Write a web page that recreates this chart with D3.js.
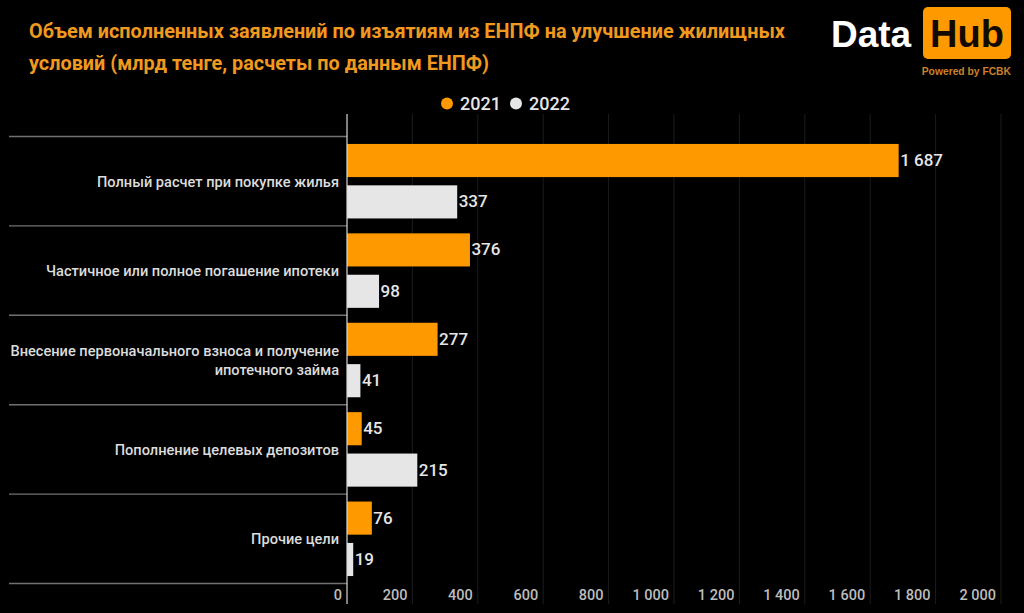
<!DOCTYPE html>
<html><head><meta charset="utf-8">
<script src="https://cdnjs.cloudflare.com/ajax/libs/d3/7.8.5/d3.min.js"></script>
<style>html,body{margin:0;padding:0;background:#000;overflow:hidden}svg{display:block}text{font-family:Roboto,sans-serif}</style>
</head><body><svg id="c" width="1024" height="613"></svg>
<script>
const categories = ["Полный расчет при покупке жилья","Частичное или полное погашение ипотеки","Внесение первоначального взноса и получение|ипотечного займа","Пополнение целевых депозитов","Прочие цели"];
const seriesNames = ["2021","2022"];
const values2021 = [1687,376,277,45,76];
const values2022 = [337,98,41,215,19];
const xTicks = [0,200,400,600,800,1000,1200,1400,1600,1800,2000];
const titleLines = ["Объем исполненных заявлений по изъятиям из ЕНПФ на улучшение жилищных","условий (млрд тенге, расчеты по данным ЕНПФ)"];
const colors = ["#ff9900","#e6e6e6"];
const fmt = v => d3.format(",")(v).replace(/,/g," ");

const svg = d3.select("#c");
const x = d3.scaleLinear().domain([0,2000]).range([347,1001]);
const y = d3.scaleBand().domain(categories).range([136.5,583.5]);
const y2 = d3.scaleBand().domain([0,1]).range([0,y.bandwidth()]).paddingInner(0.2).paddingOuter(0.18);

// title
svg.append("g").selectAll("text").data(titleLines).join("text")
  .attr("x",29).attr("y",(d,i)=>38+i*32).attr("fill","#f0991f")
  .style("font-size","19.85px").style("font-weight",700).text(d=>d);

// logo
const logoFont = "Liberation Sans, sans-serif";
svg.append("text").attr("x",831).attr("y",47).attr("fill","#fff").style("font-size","37px").style("font-weight",700).style("font-family",logoFont).text("Data");
svg.append("rect").attr("x",923).attr("y",7).attr("width",88).attr("height",52).attr("rx",5).attr("fill","#ff9900");
svg.append("text").attr("x",967).attr("y",47).attr("text-anchor","middle").attr("fill","#120a00").style("font-size","38px").style("font-weight",700).style("font-family",logoFont).text("Hub");
svg.append("text").attr("x",1011).attr("y",75).attr("text-anchor","end").attr("fill","#c9822a").style("font-size","10.3px").style("font-weight",700).style("font-family",logoFont).text("Powered by FCBK");

// legend
const legend = svg.append("g").selectAll("g").data(seriesNames).join("g");
legend.append("circle").attr("cx",(d,i)=>447+i*69).attr("cy",103.5).attr("r",6).attr("fill",(d,i)=>colors[i]);
legend.append("text").attr("x",(d,i)=>460+i*69).attr("y",110).attr("fill","#e6e6e6").style("font-size","18px").style("font-weight",500).text(d=>d);

// gridlines
svg.append("g").selectAll("line").data(xTicks.slice(1)).join("line")
  .attr("x1",d=>x(d)).attr("x2",d=>x(d)).attr("y1",114).attr("y2",604)
  .attr("stroke","#1c1c1c").attr("stroke-width",1);

// category separators
const seps = categories.map(c=>y(c)).concat([y.range()[1]]);
svg.append("g").selectAll("line").data(seps).join("line")
  .attr("x1",9).attr("x2",347).attr("y1",d=>d).attr("y2",d=>d)
  .attr("stroke","#707070").attr("stroke-width",1.4);

// bars
[values2021,values2022].forEach((vals,s)=>{
  const g = svg.append("g");
  g.selectAll("rect").data(vals).join("rect")
    .attr("x",x(0)).attr("y",(d,i)=>y(categories[i])+y2(s))
    .attr("width",d=>x(d)-x(0)).attr("height",y2.bandwidth()).attr("fill",colors[s]);
  g.selectAll("text").data(vals).join("text")
    .attr("x",d=>x(d)+1.5).attr("y",(d,i)=>y(categories[i])+y2(s)+y2.bandwidth()/2+5.5)
    .attr("fill","#e6e6e6").style("font-size","17px").style("font-weight",500).text(d=>fmt(d));
});

// category labels
categories.forEach(c=>{
  const parts = c.split("|");
  const cy = y(c)+y.bandwidth()/2;
  parts.forEach((p,i)=>{
    svg.append("text").attr("x",339).attr("y",cy+5.5+(i-(parts.length-1)/2)*19)
      .attr("text-anchor","end").attr("fill","#dcdcdc").style("font-size","14.6px").style("font-weight",500).text(p);
  });
});

// axis baseline and tick labels
svg.append("line").attr("x1",x(0)).attr("x2",x(0)).attr("y1",114).attr("y2",604).attr("stroke","#d8d8d8").attr("stroke-width",1.2);
svg.append("g").selectAll("text").data(xTicks).join("text")
  .attr("x",d=>x(d)-5).attr("y",600).attr("text-anchor","end")
  .attr("fill","#bdbdbd").style("font-size","14.5px").style("font-weight",500).text(d=>fmt(d));
</script></body></html>
